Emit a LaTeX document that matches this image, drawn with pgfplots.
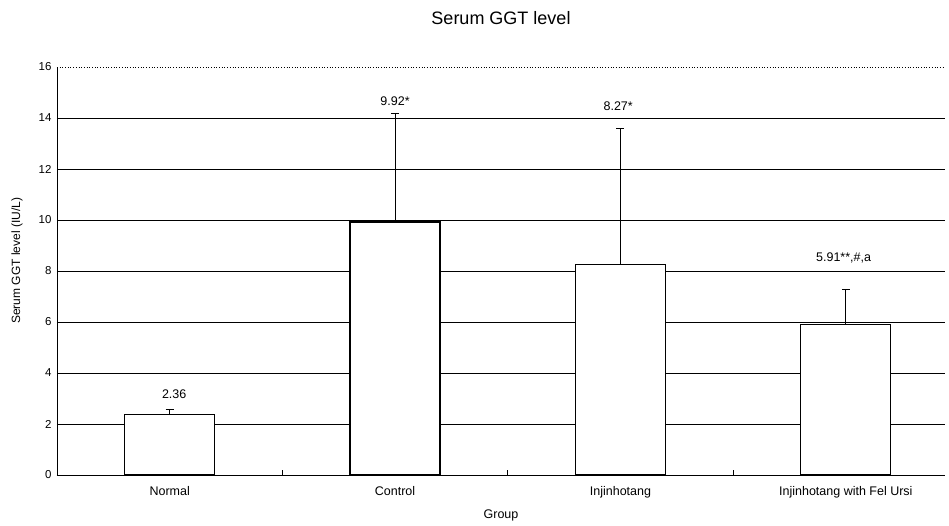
\documentclass[border=0pt]{standalone}
\usepackage{pgfplots}
\pgfplotsset{compat=1.18}
\usepackage{fontspec}
\setmainfont{Liberation Sans}
\begin{document}
\begin{tikzpicture}
\begin{axis}[
  scale only axis,
  width=888pt, height=408pt,
  xmin=-0.5, xmax=3.44,
  ymin=0, ymax=16,
  axis x line*=bottom, axis y line*=left,
  axis line style={black, line width=0.8pt},
  xtick={0,1,2,3},
  xticklabels={Normal,Control,Injinhotang,Injinhotang with Fel Ursi},
  major x tick style={draw=none},
  minor xtick={0.5,1.5,2.5},
  minor x tick style={black, line width=0.6pt},
  minor tick length=5pt,
  xtick pos=bottom,
  ytick={0,2,...,14},
  extra y ticks={16},
  extra y tick style={grid style={black, dotted, line width=0.8pt}},
  ytick pos=left,
  ymajorgrids,
  grid style={black, line width=0.7pt},
  major tick length=0pt,
  yticklabel style={font=\fontsize{11.5}{13}\selectfont, xshift=-2pt},
  xticklabel style={font=\fontsize{12.5}{14}\selectfont, yshift=-8pt},
  /pgf/number format/assume math mode=true,
  ylabel={Serum GGT level (IU/L)},
  ylabel style={font=\fontsize{12}{14}\selectfont, at={(axis description cs:-0.045,0.525)}, anchor=center},
  xlabel={Group},
  xlabel style={font=\fontsize{12.5}{14}\selectfont, yshift=-5pt},
  title={Serum GGT level},
  title style={font=\fontsize{18}{20}\selectfont, yshift=33pt},
  clip=false,
]
\addplot[ybar, bar width=90pt, fill=white, draw=black, line width=1.2pt,
  error bars/.cd, y dir=plus, y explicit,
  error bar style={black, line width=1.1pt},
  error mark options={black, rotate=90, mark size=4pt, line width=1.1pt}]
  table[x=x, y=y, y error=e] {
  x y e
  0 2.36 0.22
  1 9.92 4.24
  2 8.27 5.33
  3 5.91 1.37
  };
\node[font=\fontsize{12.5}{14}\selectfont] at (axis cs:0.02,3.18) {2.36};
\node[font=\fontsize{12.5}{14}\selectfont] at (axis cs:1.0,14.67) {9.92*};
\node[font=\fontsize{12.5}{14}\selectfont] at (axis cs:1.99,14.47) {8.27*};
\node[font=\fontsize{12.5}{14}\selectfont] at (axis cs:2.99,8.5) {5.91**,\#,a};
\end{axis}
\path (current axis.south west) ++(-57pt,-51pt) coordinate (bl);
\path (current axis.north east) ++(4pt,67pt) coordinate (tr);
\path (bl) (tr);
\end{tikzpicture}
\end{document}
